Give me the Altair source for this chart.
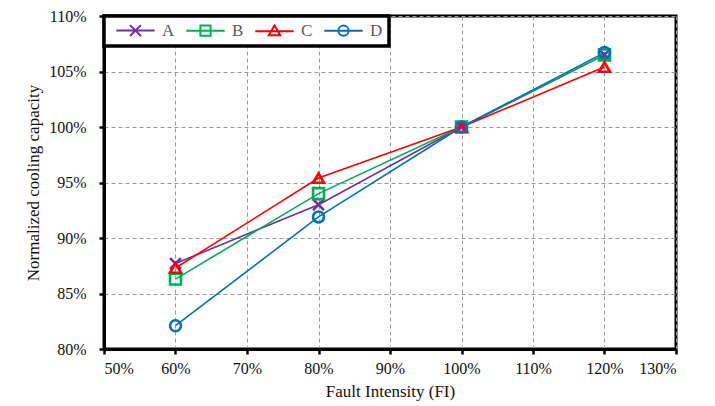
import altair as alt
import pandas as pd

fi = [0.6, 0.8, 1.0, 1.2]
series_names = ["A", "B", "C", "D"]
val_a = [0.877, 0.930, 1.0, 1.065]
val_b = [0.863, 0.940, 1.0, 1.065]
val_c = [0.873, 0.954, 1.0, 1.054]
val_d = [0.821, 0.919, 1.0, 1.067]
colors = ["#7030A0", "#00B050", "#FF0000", "#0070C0"]
x_ticks = [0.5, 0.6, 0.7, 0.8, 0.9, 1.0, 1.1, 1.2, 1.3]
y_ticks = [0.80, 0.85, 0.90, 0.95, 1.00, 1.05, 1.10]

rows = []
for name, vals in zip(series_names, [val_a, val_b, val_c, val_d]):
    for f, v in zip(fi, vals):
        rows.append({"FI": f, "cap": v, "series": name})
df = pd.DataFrame(rows)

font = "Liberation Serif"

point_shapes = ["M-1,-1L1,1M-1,1L1,-1", "square", "triangle-up", "circle"]
legend_shapes = [
    "M-3.2,0H3.2M-0.9,-0.9L0.9,0.9M-0.9,0.9L0.9,-0.9",
    "M-3.2,0H3.2M-0.85,-0.85H0.85V0.85H-0.85Z",
    "M-3.2,0H3.2M0,-0.95L0.95,0.7L-0.95,0.7Z",
    "M-3.2,0H3.2M0.85,0A0.85,0.85 0 1,1 -0.85,0A0.85,0.85 0 1,1 0.85,0Z",
]

x_enc = alt.X("FI:Q", scale=alt.Scale(domain=[0.5, 1.3], nice=False),
              axis=alt.Axis(values=x_ticks, format=".0%", title="Fault Intensity (FI)"))
y_enc = alt.Y("cap:Q", scale=alt.Scale(domain=[0.8, 1.1], nice=False, zero=False),
              axis=alt.Axis(values=y_ticks, format=".0%", title="Normalized cooling capacity"))

color_plain = alt.Color("series:N", scale=alt.Scale(domain=series_names, range=colors), legend=None)

base = alt.Chart(df)

lines = base.mark_line(strokeWidth=1.6).encode(x=x_enc, y=y_enc, color=color_plain)

points = base.mark_point(filled=False, size=120, strokeWidth=2.6, opacity=1).encode(
    x=x_enc, y=y_enc, color=color_plain,
    shape=alt.Shape("series:N", scale=alt.Scale(domain=series_names, range=point_shapes), legend=None),
)

legend_layer = base.mark_point(filled=False, strokeWidth=2, opacity=1).encode(
    x=x_enc, y=y_enc,
    color=alt.Color("series:N", scale=alt.Scale(domain=series_names, range=colors),
                    legend=alt.Legend(title=None)),
    shape=alt.Shape("series:N", scale=alt.Scale(domain=series_names, range=legend_shapes),
                    legend=alt.Legend(title=None)),
).transform_filter("false")

chart = alt.layer(lines, points, legend_layer).resolve_scale(
    color="independent", shape="independent"
).properties(
    width=572, height=333,
    autosize=alt.AutoSizeParams(type="none"),
    padding={"left": 96, "top": 8, "right": 30, "bottom": 56},
).configure_view(
    stroke="black", strokeWidth=3
).configure_axis(
    labelFont=font, labelFontSize=16, labelColor="#111",
    titleFont=font, titleFontSize=17, titleFontWeight="normal", titleColor="#111",
    domainColor="black", domainWidth=3,
    tickColor="black", tickWidth=2.5, tickSize=5,
    gridColor="#9a9a9a", gridDash=[4, 3], gridWidth=1,
).configure_axisX(
    labelPadding=6, titlePadding=7,
).configure_axisY(
    labelPadding=13, titlePadding=6,
).configure_legend(
    orient="top-left", direction="horizontal", offset=0,
    fillColor="white", strokeColor="black", strokeWidth=3.5,
    padding=6, symbolSize=144, symbolStrokeWidth=2,
    symbolOffset=17,
    labelFont=font, labelFontSize=17, labelColor="#595959",
    labelOffset=18, columnPadding=5,
)

chart.save("out.html", embed_options={"renderer": "svg", "actions": False})
